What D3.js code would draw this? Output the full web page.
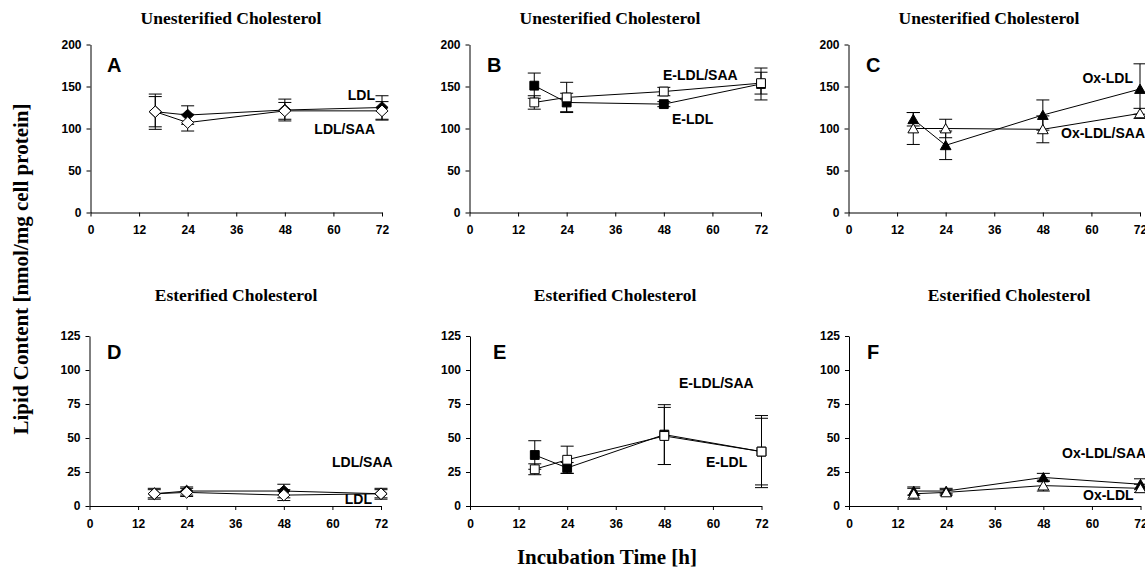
<!DOCTYPE html>
<html>
<head>
<meta charset="utf-8">
<script src="https://cdn.jsdelivr.net/npm/d3@7"></script>
<style>
  html, body { margin: 0; padding: 0; background: #fff; }
  svg { display: block; }
  .tick text { font-family: "Liberation Sans", Arial, sans-serif; font-weight: bold; font-size: 12px; fill: #000; }
  .tick line, .domain { stroke: #000; stroke-width: 1; }
</style>
</head>
<body>
<svg id="chart" width="1145" height="574"></svg>
<script>
// Incubation time points (h) and axis ticks
const hours = [16, 24, 48, 72];
const timeTicks = [0, 12, 24, 36, 48, 60, 72];
const freeCholTicks = [0, 50, 100, 150, 200];
const esterCholTicks = [0, 25, 50, 75, 100, 125];

// Unesterified cholesterol (nmol/mg cell protein), mean and error
const ldlFree = [120, 116, 122, 125];
const ldlFreeErr = [18, 11, 13, 14];
const ldlSaaFree = [120, 107, 121, 121];
const ldlSaaFreeErr = [21, 10, 10, 11];

const eLdlFree = [151, 131, 129, 153];
const eLdlFreeErr = [15, 11, 3, 19];
const eLdlSaaFree = [131, 137, 144, 154];
const eLdlSaaFreeErr = [8, 18, 5, 13];

const oxLdlFree = [111, 80, 116, 147];
const oxLdlFreeErr = [8, 17, 18, 30];
const oxLdlSaaFree = [100, 100, 99, 118];
const oxLdlSaaFreeErr = [19, 11, 16, 6];

// Esterified cholesterol (nmol/mg cell protein), mean and error
const ldlEster = [9, 11, 11, 9];
const ldlEsterErr = [3, 3, 5, 3];
const ldlSaaEster = [9, 10, 8, 9];
const ldlSaaEsterErr = [4, 3, 4, 4];

const eLdlEster = [37.5, 28, 52.5, 40];
const eLdlEsterErr = [10.5, 4, 22, 26.5];
const eLdlSaaEster = [27, 34, 51.5, 40];
const eLdlSaaEsterErr = [4, 10, 21, 24.5];

const oxLdlEster = [11, 11, 21, 16];
const oxLdlEsterErr = [3, 2, 3, 4];
const oxLdlSaaEster = [9, 10, 15, 13];
const oxLdlSaaEsterErr = [4, 2, 4, 3];

// Panel layout
const plotW = 291.5;
const topRow = { top: 44.5, h: 168, yMax: 200, ticks: freeCholTicks, title: "Unesterified Cholesterol", titleY: 24 };
const botRow = { top: 336, h: 170, yMax: 125, ticks: esterCholTicks, title: "Esterified Cholesterol", titleY: 301 };

const panels = [
  { letter: "A", row: topRow, x0: 90.5, titleX: 231, letterPos: [107, 72], shape: "diamond",
    series: [
      { name: "LDL", values: ldlFree, err: ldlFreeErr, filled: true },
      { name: "LDL/SAA", values: ldlSaaFree, err: ldlSaaFreeErr, filled: false } ],
    labels: [ { s: 0, x: 375, y: 100, anchor: "end" }, { s: 1, x: 375, y: 134, anchor: "end" } ] },
  { letter: "B", row: topRow, x0: 469.5, titleX: 610, letterPos: [487, 72], shape: "square",
    series: [
      { name: "E-LDL", values: eLdlFree, err: eLdlFreeErr, filled: true },
      { name: "E-LDL/SAA", values: eLdlSaaFree, err: eLdlSaaFreeErr, filled: false } ],
    labels: [ { s: 1, x: 663, y: 80, anchor: "start" }, { s: 0, x: 672, y: 124, anchor: "start" } ] },
  { letter: "C", row: topRow, x0: 848.5, titleX: 989, letterPos: [866, 72], shape: "triangle",
    series: [
      { name: "Ox-LDL", values: oxLdlFree, err: oxLdlFreeErr, filled: true },
      { name: "Ox-LDL/SAA", values: oxLdlSaaFree, err: oxLdlSaaFreeErr, filled: false } ],
    labels: [ { s: 0, x: 1133, y: 83, anchor: "end" }, { s: 1, x: 1061, y: 138, anchor: "start" } ] },
  { letter: "D", row: botRow, x0: 89.5, titleX: 236, letterPos: [107, 359], shape: "diamond",
    series: [
      { name: "LDL", values: ldlEster, err: ldlEsterErr, filled: true },
      { name: "LDL/SAA", values: ldlSaaEster, err: ldlSaaEsterErr, filled: false } ],
    labels: [ { s: 1, x: 332, y: 467, anchor: "start" }, { s: 0, x: 372, y: 504, anchor: "end" } ] },
  { letter: "E", row: botRow, x0: 470, titleX: 615, letterPos: [493, 359], shape: "square",
    series: [
      { name: "E-LDL", values: eLdlEster, err: eLdlEsterErr, filled: true },
      { name: "E-LDL/SAA", values: eLdlSaaEster, err: eLdlSaaEsterErr, filled: false } ],
    labels: [ { s: 1, x: 679, y: 388, anchor: "start" }, { s: 0, x: 706, y: 467, anchor: "start" } ] },
  { letter: "F", row: botRow, x0: 849, titleX: 1009, letterPos: [867, 359], shape: "triangle",
    series: [
      { name: "Ox-LDL", values: oxLdlEster, err: oxLdlEsterErr, filled: true },
      { name: "Ox-LDL/SAA", values: oxLdlSaaEster, err: oxLdlSaaEsterErr, filled: false } ],
    labels: [ { s: 1, x: 1062, y: 458, anchor: "start" }, { s: 0, x: 1083, y: 500, anchor: "start" } ] }
];

// Marker shapes
const diamondType = { draw(ctx, size) { const r = Math.sqrt(size) / 2 * 1.05;
  ctx.moveTo(0, -r); ctx.lineTo(r * 1.05, 0); ctx.lineTo(0, r); ctx.lineTo(-r * 1.05, 0); ctx.closePath(); } };
const triangleType = { draw(ctx, size) { const s = Math.sqrt(size);
  ctx.moveTo(0, -s * 0.5); ctx.lineTo(s * 0.55, s * 0.45); ctx.lineTo(-s * 0.55, s * 0.45); ctx.closePath(); } };
const shapes = {
  diamond: d3.symbol().type(diamondType).size(121),
  square: d3.symbol().type(d3.symbolSquare).size(78),
  triangle: d3.symbol().type(triangleType).size(95)
};

const svg = d3.select("#chart");
const sans = "'Liberation Sans', Arial, sans-serif";
const serif = "'Liberation Serif', 'Times New Roman', serif";

panels.forEach(p => {
  const r = p.row;
  const x = d3.scaleLinear().domain([0, 72]).range([p.x0, p.x0 + plotW]);
  const y = d3.scaleLinear().domain([0, r.yMax]).range([r.top + r.h, r.top]);
  const g = svg.append("g");

  // Axes
  g.append("g").attr("transform", `translate(0,${y(0)})`)
    .call(d3.axisBottom(x).tickValues(timeTicks).tickSize(4).tickPadding(9).tickSizeOuter(0));
  g.append("g").attr("transform", `translate(${x(0)},0)`)
    .call(d3.axisLeft(y).tickValues(r.ticks).tickSize(4).tickPadding(5).tickSizeOuter(0));

  // Panel title and letter
  g.append("text").attr("x", p.titleX).attr("y", r.titleY).attr("text-anchor", "middle")
    .style("font-family", serif).style("font-weight", "bold").style("font-size", "17.5px")
    .text(r.title);
  g.append("text").attr("x", p.letterPos[0]).attr("y", p.letterPos[1])
    .style("font-family", sans).style("font-weight", "bold").style("font-size", "20px")
    .text(p.letter);

  const line = d3.line().x((d, i) => x(hours[i])).y(d => y(d));

  // Connecting lines
  p.series.forEach(s => {
    g.append("path").datum(s.values).attr("d", line)
      .attr("fill", "none").attr("stroke", "#000").attr("stroke-width", 1);
  });

  // Error bars
  const cap = 6.5;
  p.series.forEach(s => {
    const eb = g.append("g").attr("stroke", "#000").attr("stroke-width", 1);
    s.values.forEach((v, i) => {
      const cx = x(hours[i]), y1 = y(v + s.err[i]), y2 = y(v - s.err[i]);
      eb.append("line").attr("x1", cx).attr("x2", cx).attr("y1", y1).attr("y2", y2);
      eb.append("line").attr("x1", cx - cap).attr("x2", cx + cap).attr("y1", y1).attr("y2", y1);
      eb.append("line").attr("x1", cx - cap).attr("x2", cx + cap).attr("y1", y2).attr("y2", y2);
    });
  });

  // Markers: filled series first, open series on top
  p.series.forEach(s => {
    g.append("g").selectAll("path").data(s.values).join("path")
      .attr("d", shapes[p.shape])
      .attr("transform", (d, i) => `translate(${x(hours[i])},${y(d)})`)
      .attr("fill", s.filled ? "#000" : "#fff")
      .attr("stroke", "#000").attr("stroke-width", 1);
  });

  // Series labels
  p.labels.forEach(l => {
    g.append("text").attr("x", l.x).attr("y", l.y).attr("text-anchor", l.anchor)
      .style("font-family", sans).style("font-weight", "bold").style("font-size", "14px")
      .text(p.series[l.s].name);
  });
});

// Shared axis titles
svg.append("text")
  .attr("transform", "translate(28,269) rotate(-90)")
  .attr("text-anchor", "middle")
  .style("font-family", serif).style("font-weight", "bold").style("font-size", "21px")
  .text("Lipid Content [nmol/mg cell protein]");
svg.append("text")
  .attr("x", 607).attr("y", 564).attr("text-anchor", "middle")
  .style("font-family", serif).style("font-weight", "bold").style("font-size", "21px")
  .text("Incubation Time [h]");
</script>
</body>
</html>
